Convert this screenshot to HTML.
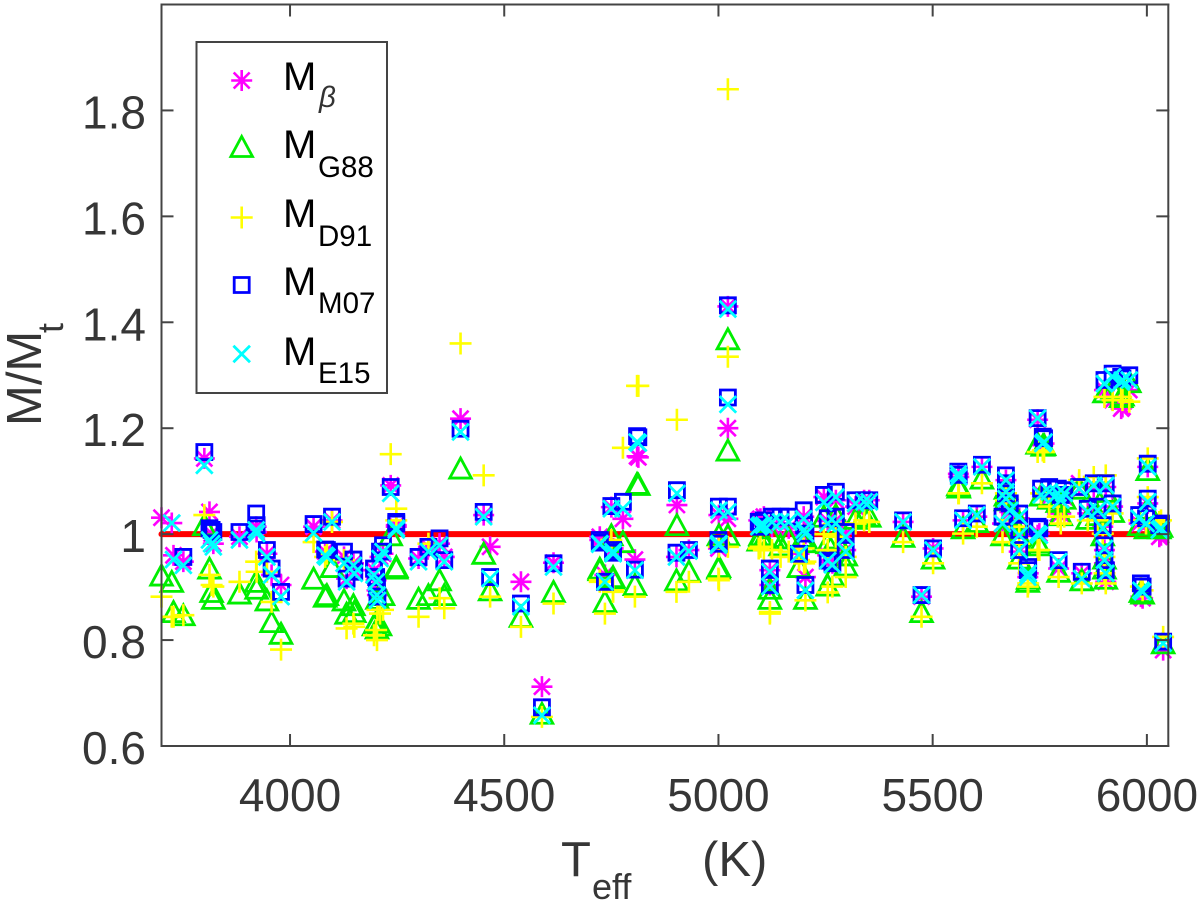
<!DOCTYPE html>
<html lang="en">
<head>
<meta charset="utf-8">
<title>M/Mt vs Teff</title>
<style>
html,body{margin:0;padding:0;background:#fff;width:1200px;height:903px;overflow:hidden}
svg{display:block}
text{font-family:"Liberation Sans",sans-serif}
.tick-label{font-size:46px;fill:#363636}
.title{font-size:49px;fill:#363636}
.title-sub{font-size:36px;fill:#363636}
.leg-main{font-size:40px;fill:#000}
.leg-sub{font-size:29.5px;fill:#000}
</style>
</head>
<body>
<svg id="chart" width="1200" height="903" viewBox="0 0 1200 903" xmlns="http://www.w3.org/2000/svg">
  <rect x="0" y="0" width="1200" height="903" fill="#fff"/>
  <g id="reference"></g>
  <g id="marks"></g>
  <g id="axes"></g>
  <g transform="translate(41,423) rotate(-90)">
    <text class="title" x="-3" y="0">M/M</text>
    <text class="title-sub" x="90" y="22">t</text>
  </g>
  <g>
    <text class="title" x="561" y="876">T</text>
    <text class="title-sub" x="592" y="899">eff</text>
    <text class="title" x="702" y="876">(K)</text>
  </g>
  <g id="legend">
    <rect x="196.5" y="42" width="190.5" height="351" fill="#fff" stroke="#444" stroke-width="2"/>
    <g>
      <path id="leg-beta"/>
      <text class="leg-main" x="283" y="90">M</text>
      <text class="leg-sub" x="319" y="107" style="font-style:italic;font-weight:normal;fill:#333">β</text>
    </g>
    <g>
      <path id="leg-g88"/>
      <text class="leg-main" x="283" y="158">M</text>
      <text class="leg-sub" x="318" y="177">G88</text>
    </g>
    <g>
      <path id="leg-d91"/>
      <text class="leg-main" x="283" y="227">M</text>
      <text class="leg-sub" x="318" y="246">D91</text>
    </g>
    <g>
      <path id="leg-m07"/>
      <text class="leg-main" x="283" y="295">M</text>
      <text class="leg-sub" x="318" y="313">M07</text>
    </g>
    <g>
      <path id="leg-e15"/>
      <text class="leg-main" x="283" y="365">M</text>
      <text class="leg-sub" x="318" y="383">E15</text>
    </g>
  </g>
</svg>
<script>
const xTicks = [4000, 4500, 5000, 5500, 6000];
const yTicks = [0.6, 0.8, 1, 1.2, 1.4, 1.6, 1.8];
const yTickLabels = ['0.6', '0.8', '1', '1.2', '1.4', '1.6', '1.8'];
const xDomain = [3700, 6050];
const yDomain = [0.6, 2.0];
const referenceX = [3700, 6030];
const referenceY = [1, 1];

const teff = [
3700,3724,3728,3751,3800,3812,3817,3821,3882,3921,
3922,3946,3957,3979,4055,4098,4086,4082,4126,4132,
4148,4150,4196,4201,4203,4204,4217,4210,4235,4248,
4248,4300,4323,4349,4360,4398,4452,4467,4539,4615,
4588,4723,4723,4735,4754,4754,4750,4777,4805,4810,
4813,4903,4902,4931,5001,5022,5022,5022,5001,5000,
5098,5106,5094,5125,5164,5145,5120,5120,5188,5199,
5203,5203,5200,5246,5255,5255,5274,5274,5297,5297,
5266,5320,5340,5352,5431,5501,5474,5560,5561,5571,
5603,5615,5663,5671,5671,5671,5680,5702,5702,5702,
5722,5723,5745,5749,5794,5848,5745,5760,5757,5753,
5772,5792,5807,5799,5842,5876,5904,5862,5885,5920,
5897,5901,5901,5904,5901,5920,5943,5959,5940,6002,
6002,5982,5998,6033,6029,5986,5990,6038];

const mBeta = [
1.031,1.021,.960,.948,1.143,1.042,1.001,.982,.995,1.014,
1.004,.963,.923,.904,1.014,1.026,.963,.967,.957,.916,
.945,.932,.932,.913,.894,.885,.963,.957,1.092,1.014,
1.017,.954,.976,.982,.957,1.218,1.036,.976,.910,.946,
.712,.989,.995,.923,.973,.973,1.051,1.029,.952,1.147,
1.145,1.055,.957,.970,1.036,1.029,1.43,1.2,.976,.973,
1.029,1.033,1.026,1.014,1.011,1.020,.932,.904,.963,1.033,
1.001,.919,1.004,1.07,1.025,.96,1.064,1.026,1.001,.970,
.945,1.052,1.064,1.064,1.023,.973,.882,1.114,1.108,1.026,
1.033,1.127,1.020,1.102,1.077,1.064,1.042,1.030,1.001,.967,
.919,.926,.998,1.001,.935,.926,1.216,1.171,1.168,1.077,
1.070,1.039,1.070,1.039,1.096,1.089,1.089,1.039,1.042,1.052,
1.014,.970,.945,.910,1.272,1.253,1.240,1.272,1.237,1.127,
1.058,1.020,1.017,.998,.995,.882,.879,.781];

const mG88 = [
.919,.907,.850,.844,1.014,.932,.888,.875,.885,.907,
.894,.872,.831,.809,.913,.935,.882,.879,.872,.847,
.863,.850,.825,.831,.819,.875,.882,.825,.995,.935,
.932,.875,.882,.910,.882,1.121,.960,.891,.841,.888,
.658,.932,.929,.869,.916,.913,.995,.982,.901,1.092,
1.09,1.014,.910,.926,.995,.995,1.365,1.155,.935,.932,
.995,.989,.985,.992,.989,.976,.894,.875,.935,.992,
.989,.875,.982,1.03,.98,.90,1.033,.989,.957,.938,
.919,1.026,1.033,1.03,.992,.951,.850,1.089,1.085,1.008,
1.020,1.102,.995,1.083,1.070,1.061,1.033,1.020,.995,.951,
.907,.913,.982,.976,.926,.910,1.168,1.165,1.164,1.070,
1.064,1.058,1.064,1.033,1.083,1.077,1.077,1.026,1.033,1.039,
.995,.951,.932,.913,1.265,1.272,1.259,1.284,1.256,1.118,
1.045,1.014,1.008,1.011,1.008,.888,.885,.791];

const mD91 = [
.882,.844,.844,.847,1.036,.923,.904,.901,.910,.948,
.929,.929,.872,.782,.985,1.023,.963,.957,.951,.822,
.831,.825,.809,.819,.800,.857,.857,.850,1.151,1.048,
1.026,.844,.982,.879,.860,1.36,1.111,.882,.825,.869,
.655,.913,.910,.850,.894,.891,.989,1.163,.882,1.28,
1.28,1.216,.891,.910,.976,.976,1.84,1.335,.913,.916,
.976,.970,.973,.970,.967,.957,.853,.850,.951,.973,
.948,.875,.945,1.0,.97,.89,1.020,.995,.957,.919,
.901,1.020,1.026,1.023,.985,.945,.844,1.077,1.077,1.001,
1.014,1.096,.985,1.064,1.077,1.077,1.026,1.014,.982,.945,
.901,.907,.970,.970,.919,.907,1.155,1.155,1.158,1.077,
1.052,1.033,1.033,1.020,1.102,1.108,1.111,1.026,1.026,1.039,
1.001,.957,.926,.907,1.259,1.253,1.253,1.250,1.259,1.143,
1.070,1.026,1.020,1.026,1.023,.901,.894,.806];

const mM07 = [
null,null,null,.957,1.155,1.011,1.008,1.004,1.004,1.039,
1.017,.970,.935,.891,1.019,1.033,.970,.971,.967,.916,
.952,.929,.935,.919,.901,.882,.979,.967,1.089,1.023,
1.020,.957,.976,.992,.951,1.199,1.042,.919,.869,.945,
.673,.984,.989,.910,.965,.970,1.053,1.061,.933,1.185,
1.183,1.083,.965,.970,1.052,1.052,1.432,1.258,.982,.989,
1.014,1.026,1.023,1.033,1.033,1.033,.935,.904,.963,1.045,
1.001,.904,1.017,1.074,1.03,.95,1.080,1.033,1.004,.970,
.945,1.064,1.064,1.064,1.026,.973,.885,1.118,1.112,1.030,
1.039,1.131,1.033,1.111,1.096,1.077,1.058,1.039,1.008,.970,
.932,.938,1.014,1.011,.951,.929,1.219,1.181,1.184,1.086,
1.089,1.086,1.083,1.074,1.089,1.096,1.096,1.048,1.052,1.058,
1.017,.979,.951,.932,1.291,1.303,1.294,1.300,1.297,1.133,
1.067,1.036,1.030,1.020,1.017,.907,.901,.797];

const mE15 = [
null,1.021,.952,.941,1.130,.989,.982,.976,.989,1.008,
1.001,.957,.923,.882,1.002,1.023,.957,.960,.945,.910,
.941,.926,.923,.910,.885,.875,.967,.954,1.077,1.011,
1.008,.948,.967,.979,.948,1.193,1.033,.916,.863,.938,
.658,.982,.981,.910,.963,.967,1.048,1.048,.932,1.174,
1.172,1.077,.957,.968,1.045,1.042,1.425,1.245,.982,.979,
1.017,1.017,1.014,1.023,1.023,1.023,.929,.901,.962,1.029,
1.001,.894,1.008,1.06,1.02,.95,1.070,1.020,.995,.967,
.942,1.058,1.061,1.061,1.023,.970,.885,1.114,1.108,1.026,
1.036,1.127,1.020,1.102,1.080,1.067,1.045,1.033,.998,.970,
.919,.926,1.001,.998,.948,.916,1.219,1.174,1.171,1.074,
1.080,1.077,1.077,1.064,1.086,1.092,1.092,1.042,1.045,1.052,
1.011,.973,.951,.926,1.284,1.297,1.291,1.291,1.287,1.127,
1.061,1.030,1.020,1.011,1.008,.894,.891,.794];

const NS = 'http://www.w3.org/2000/svg';
const PLOT = {left: 161.5, right: 1168.3, top: 4.5, bottom: 746};
const TICK_LEN = 11;

function xScale(v) {
  return PLOT.left + (v - xDomain[0]) / (xDomain[1] - xDomain[0]) * (PLOT.right - PLOT.left);
}
function yScale(v) {
  return PLOT.bottom - (v - yDomain[0]) / (yDomain[1] - yDomain[0]) * (PLOT.bottom - PLOT.top);
}

function asteriskPath(x, y) {
  const a = 10.5, b = 8;
  return 'M' + x + ' ' + (y - a) + 'V' + (y + a) +
    'M' + (x - b) + ' ' + (y - b) + 'L' + (x + b) + ' ' + (y + b) +
    'M' + (x - b) + ' ' + (y + b) + 'L' + (x + b) + ' ' + (y - b) +
    'M' + (x - a) + ' ' + y + 'H' + (x + a);
}
function trianglePath(x, y) {
  return 'M' + x + ' ' + (y - 12) + 'L' + (x + 10.8) + ' ' + (y + 8) + 'H' + (x - 10.8) + 'Z';
}
function plusPath(x, y) {
  const a = 11;
  return 'M' + (x - a) + ' ' + y + 'H' + (x + a) + 'M' + x + ' ' + (y - a) + 'V' + (y + a);
}
function squarePath(x, y) {
  const a = 7.5;
  return 'M' + (x - a) + ' ' + (y - a) + 'H' + (x + a) + 'V' + (y + a) + 'H' + (x - a) + 'Z';
}
function crossPath(x, y) {
  const a = 8.3;
  return 'M' + (x - a) + ' ' + (y - a) + 'L' + (x + a) + ' ' + (y + a) +
    'M' + (x - a) + ' ' + (y + a) + 'L' + (x + a) + ' ' + (y - a);
}

function styleMarker(el, color, width) {
  el.setAttribute('fill', 'none');
  el.setAttribute('stroke', color);
  el.setAttribute('stroke-width', width);
  el.setAttribute('stroke-linejoin', 'miter');
}

function drawSeries(values, shape, color, width, seriesName) {
  const group = document.createElementNS(NS, 'g');
  
  
  values.forEach(function (v, i) {
    if (v === null) return;
    const p = document.createElementNS(NS, 'path');
    p.setAttribute('d', shape(xScale(teff[i]), yScale(v)));
    styleMarker(p, color, width);
    
    
    group.appendChild(p);
  });
  document.getElementById('marks').appendChild(group);
}

function drawReference() {
  const line = document.createElementNS(NS, 'line');
  line.setAttribute('x1', xScale(referenceX[0]));
  line.setAttribute('y1', yScale(referenceY[0]));
  line.setAttribute('x2', xScale(referenceX[1]));
  line.setAttribute('y2', yScale(referenceY[1]));
  line.setAttribute('stroke', '#ff0000');
  line.setAttribute('stroke-width', '6');
  line.setAttribute('stroke-linecap', 'round');
  
  
  document.getElementById('reference').appendChild(line);
}

function axisLine(parent, x1, y1, x2, y2, width, name) {
  const l = document.createElementNS(NS, 'line');
  l.setAttribute('x1', x1);
  l.setAttribute('y1', y1);
  l.setAttribute('x2', x2);
  l.setAttribute('y2', y2);
  l.setAttribute('stroke', '#444');
  l.setAttribute('stroke-width', width);
  l.setAttribute('stroke-linecap', 'square');
  
  
  parent.appendChild(l);
}

function drawAxes() {
  const g = document.getElementById('axes');
  axisLine(g, PLOT.left, PLOT.top, PLOT.left, PLOT.bottom, 2, 'y-axis-line');
  axisLine(g, PLOT.left, PLOT.bottom, PLOT.right, PLOT.bottom, 2, 'x-axis-line');
  axisLine(g, PLOT.right, PLOT.top, PLOT.right, PLOT.bottom, 2, 'right-axis-line');
  axisLine(g, PLOT.left, PLOT.top, PLOT.right, PLOT.top, 2, 'top-axis-line');
  xTicks.forEach(function (t) {
    const x = xScale(t);
    axisLine(g, x, PLOT.bottom, x, PLOT.bottom - TICK_LEN, 2, 'x-tick');
    axisLine(g, x, PLOT.top, x, PLOT.top + TICK_LEN, 2, 'x-tick-top');
    const label = document.createElementNS(NS, 'text');
    label.setAttribute('class', 'tick-label');
    label.setAttribute('x', x);
    label.setAttribute('y', 811);
    label.setAttribute('text-anchor', 'middle');
    
    
    label.textContent = String(t);
    g.appendChild(label);
  });
  yTicks.forEach(function (t, i) {
    const y = yScale(t);
    if (t > yDomain[0]) {
      axisLine(g, PLOT.left, y, PLOT.left + TICK_LEN, y, 2, 'y-tick');
      axisLine(g, PLOT.right, y, PLOT.right - TICK_LEN, y, 2, 'y-tick-right');
    }
    const label = document.createElementNS(NS, 'text');
    label.setAttribute('class', 'tick-label');
    label.setAttribute('x', 146);
    label.setAttribute('y', y + 18);
    label.setAttribute('text-anchor', 'end');
    
    
    label.textContent = yTickLabels[i];
    g.appendChild(label);
  });
}

function drawLegendMarker(id, shape, x, y, color, width) {
  const p = document.getElementById(id);
  p.setAttribute('d', shape(x, y));
  styleMarker(p, color, width);
}

drawReference();
drawSeries(mBeta, asteriskPath, '#ff00ff', 2.6, 'm-beta');
drawSeries(mG88, trianglePath, '#00ee00', 2.8, 'm-g88');
drawSeries(mD91, plusPath, '#ffff00', 2.6, 'm-d91');
drawSeries(mM07, squarePath, '#0000ff', 2.8, 'm-m07');
drawSeries(mE15, crossPath, '#00ffff', 2.8, 'm-e15');
drawAxes();
drawLegendMarker('leg-beta', asteriskPath, 241.7, 80.5, '#ff00ff', 2.6);
drawLegendMarker('leg-g88', trianglePath, 241.7, 148.5, '#00ee00', 2.8);
drawLegendMarker('leg-d91', plusPath, 241.7, 217.5, '#ffff00', 2.6);
drawLegendMarker('leg-m07', squarePath, 241.7, 285, '#0000ff', 2.8);
drawLegendMarker('leg-e15', crossPath, 241.7, 354, '#00ffff', 2.8);
</script>
</body>
</html>
